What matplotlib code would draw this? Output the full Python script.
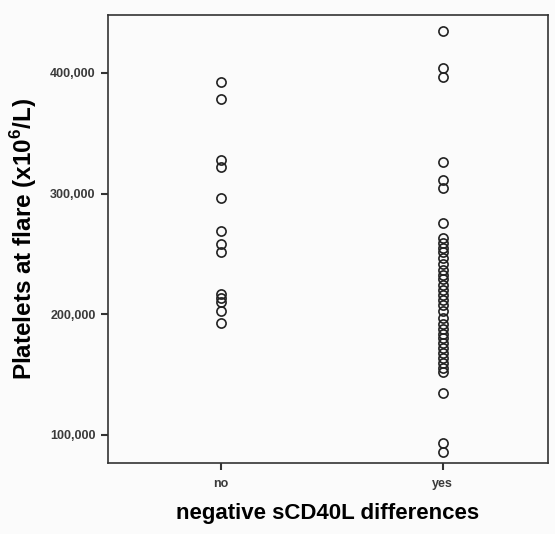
import matplotlib
matplotlib.use("Agg")
import matplotlib.pyplot as plt
from matplotlib.ticker import FuncFormatter

plt.rcParams['font.family'] = ['Liberation Sans', 'DejaVu Sans']
plt.rcParams['mathtext.fontset'] = 'custom'
plt.rcParams['mathtext.bf'] = 'Liberation Sans:bold'
plt.rcParams['mathtext.rm'] = 'Liberation Sans'

# platelets at flare, x1000 (x10^6/L)
no_vals = [392.5, 378.4, 327.8, 322, 296.3, 268.9, 258.1, 251.5,
           216.6, 213.3, 210, 202.5, 192.5]
yes_vals = [434.9, 404, 396.7, 326, 311, 305, 276, 263, 259, 255, 251.5,
            246.5, 241.5, 236.5, 232.5, 229, 224, 220, 215.7, 211.6, 207.5,
            202.5, 196.7, 191.7, 187.5, 184, 180, 176, 171.7, 167.6, 163.5,
            159.3, 155.2, 152, 135, 93.7, 86.2]
groups = ["no", "yes"]
yticks = [100000, 200000, 300000, 400000]

fig = plt.figure(figsize=(5.55, 5.34), dpi=100)
fig.patch.set_facecolor("#fbfbfb")
ax = fig.add_axes([0.1946, 0.133, 0.7924, 0.8389])
ax.set_facecolor("#fbfbfb")

for i, vals in enumerate([no_vals, yes_vals]):
    ax.plot([i] * len(vals), [v * 1000 for v in vals], linestyle="none",
            marker="o", markersize=6.6, markerfacecolor="none",
            markeredgecolor="#222222", markeredgewidth=1.2)

ax.set_xlim(-0.509, 1.473)
ax.set_ylim(76800, 448000)
ax.set_xticks([0, 1])
ax.set_xticklabels(groups)
ax.set_yticks(yticks)
ax.yaxis.set_major_formatter(FuncFormatter(lambda v, p: "{:,.0f}".format(v)))

for s in ax.spines.values():
    s.set_linewidth(1.2)
    s.set_color("#333333")
ax.tick_params(direction="out", length=5, width=1.5, colors="#333333",
               labelsize=9, pad=4)
ax.tick_params(axis="x", pad=6)
for lab in ax.get_xticklabels() + ax.get_yticklabels():
    lab.set_fontweight("bold")
    lab.set_color("#3a3a3a")

ax.set_ylabel("Platelets at flare (x10$^{\\mathbf{6}}$/L)", fontsize=17.5,
              fontweight="bold")
ax.yaxis.set_label_coords(-0.157, 0.5)
ax.set_xlabel("negative sCD40L differences", fontsize=16,
              fontweight="bold", labelpad=9)

fig.savefig("out.png", dpi=100, facecolor=fig.get_facecolor())
